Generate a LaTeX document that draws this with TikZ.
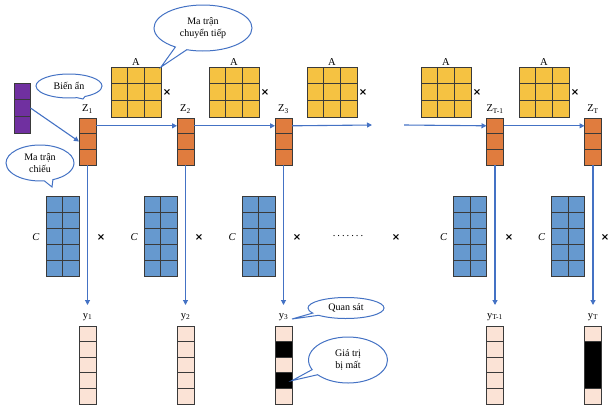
\documentclass[tikz,border=0pt]{standalone}
\usepackage{fontspec}
\setmainfont{Liberation Serif}
\newfontfamily\symfont{DejaVu Sans}
\usetikzlibrary{shapes.callouts,arrows.meta,calc}
\definecolor{zor}{HTML}{E07C3E}
\definecolor{ayel}{HTML}{F5C242}
\definecolor{cblu}{HTML}{6699CF}
\definecolor{ppur}{HTML}{7030A0}
\definecolor{ypnk}{HTML}{FBE3D6}
\definecolor{arrblue}{HTML}{4472C4}
\definecolor{edge}{HTML}{3A3A3A}
\newcommand\rowlines[3]{\foreach \i in {1,...,#2}{\draw[gridln] ($(#1.north west)!\i/#3!(#1.south west)$) -- ($(#1.north east)!\i/#3!(#1.south east)$);}}
\newcommand\collines[3]{\foreach \i in {1,...,#2}{\draw[gridln] ($(#1.north west)!\i/#3!(#1.north east)$) -- ($(#1.south west)!\i/#3!(#1.south east)$);}}
\newcommand\blackcell[3]{\fill[black] ($(#1.north west)!#2!(#1.south west)$) rectangle ($(#1.north east)!#3!(#1.south east)$);}
\begin{document}
\begin{tikzpicture}[x=1pt,y=-1pt,
 cellbox/.style={draw=edge, line width=0.9pt, inner sep=0pt, outer sep=0pt},
 gridln/.style={draw=edge, line width=0.8pt},
 arr/.style={draw=arrblue, line width=1.1pt, -{Triangle[length=5pt,width=5pt]}},
 lab/.style={font=\fontsize{10.5}{12}\selectfont, inner sep=1pt},
 mul/.style={font=\symfont\bfseries\fontsize{10}{12}\selectfont, inner sep=0pt},
 bubble/.style={ellipse callout, draw=arrblue, line width=1pt, fill=white, align=center, font=\fontsize{10}{11.5}\selectfont, inner sep=0pt}]
\useasboundingbox (0,0) rectangle (609,407);

% hidden state vectors Z
\foreach \n/\x/\t in {1/87.5/1, 2/185.5/2, 3/283.5/3, 4/495/T-1, 5/593/T}{
  \node[cellbox, fill=zor, minimum width=17pt, minimum height=47pt] (z\n) at (\x,141.5) {};
  \rowlines{z\n}{2}{3}
  \node[lab] (zl\n) at (\x,109) {Z\textsubscript{\t}};
  % projection matrices C
  \node[cellbox, fill=cblu, minimum width=33pt, minimum height=80pt] (c\n) at (\x-25,236) {};
  \rowlines{c\n}{4}{5}
  \collines{c\n}{1}{2}
  \node[lab, font=\itshape\fontsize{10.5}{12}\selectfont] (cl\n) at (\x-51.5,237) {C};
  % observation vectors y
  \node[cellbox, fill=ypnk, minimum width=17pt, minimum height=78pt] (yv\n) at (\x,365) {};
  \node[lab] (yl\n) at (\x,317) {y\textsubscript{\t}};
}
\rowlines{yv1}{4}{5}
\rowlines{yv2}{4}{5}
\rowlines{yv4}{4}{5}
\blackcell{yv3}{0.2}{0.4}
\blackcell{yv3}{0.6}{0.8}
\rowlines{yv3}{4}{5}
\blackcell{yv5}{0.2}{0.8}
\draw[gridln] ($(yv5.north west)!0.2!(yv5.south west)$) -- ($(yv5.north east)!0.2!(yv5.south east)$);
\draw[gridln] ($(yv5.north west)!0.8!(yv5.south west)$) -- ($(yv5.north east)!0.8!(yv5.south east)$);
\foreach \n in {1,...,5}{\node[cellbox, minimum width=17pt, minimum height=78pt] at (yv\n) {};}

% transition matrices A
\foreach \n/\x in {1/136, 2/234, 3/332, 4/446, 5/544}{
  \node[cellbox, fill=ayel, minimum width=50pt, minimum height=50pt] (a\n) at (\x,92) {};
  \rowlines{a\n}{2}{3}
  \collines{a\n}{2}{3}
  \node[lab, anchor=south] (al\n) at (a\n.north) {A};
  \node[mul] (am\n) at (\x+31,92) {×};
}

% multiplication signs for C
\foreach \n/\x in {1/101, 2/199, 3/297, 4/396, 5/509, 6/605}{
  \node[mul] (cm\n) at (\x,237) {×};
}
\node[lab] (dots) at (348,236) {.\kern2pt.\kern2pt.\kern2pt.\kern2pt.\kern2pt.\kern2pt.};

% purple input vector
\node[cellbox, fill=ppur, minimum width=16pt, minimum height=50pt] (p) at (22.5,108) {};
\rowlines{p}{2}{3}

% arrows
\coordinate (gapL) at (372,125);
\coordinate (gapR) at (404,125);
\draw[arr] (p.east) -- (z1.west);
\draw[arr] ([yshift=-7.8pt]z1.north east) -- ([yshift=-7.8pt]z2.north west);
\draw[arr] ([yshift=-7.8pt]z2.north east) -- ([yshift=-7.8pt]z3.north west);
\draw[arr] ([yshift=-7.8pt]z3.north east) -- (gapL);
\draw[arr] (gapR) -- ([yshift=-7.8pt]z4.north west);
\draw[arr] ([yshift=-7.8pt]z4.north east) -- ([yshift=-7.8pt]z5.north west);
\foreach \n in {1,...,5}{
  \draw[arr, shorten >=21pt] (z\n.south) -- (yv\n.north);
}

% callouts
\coordinate (t2) at (83,99);
\coordinate (t3) at (52,187);
\coordinate (t4) at (292,319);
\coordinate (t5) at ($(yv3.north east)!0.7!(yv3.south east)$);
\node[bubble, minimum width=98pt, minimum height=46pt, callout absolute pointer={(a1.north east)}] (b1) at (203,28) {Ma trận\\chuyển tiếp};
\node[bubble, minimum width=66pt, minimum height=24pt, callout absolute pointer={(t2)}] (b2) at (69,86) {Biến ẩn};
\node[bubble, minimum width=68pt, minimum height=36pt, callout absolute pointer={(t3)}] (b3) at (40,163) {Ma trận\\chiếu};
\node[bubble, minimum width=76pt, minimum height=21pt, callout absolute pointer={(t4)}] (b4) at (346,308) {Quan sát};
\node[bubble, minimum width=79pt, minimum height=46pt, callout absolute pointer={(t5)}] (b5) at (348,360) {Giá trị\\bị mất};
\end{tikzpicture}
\end{document}
